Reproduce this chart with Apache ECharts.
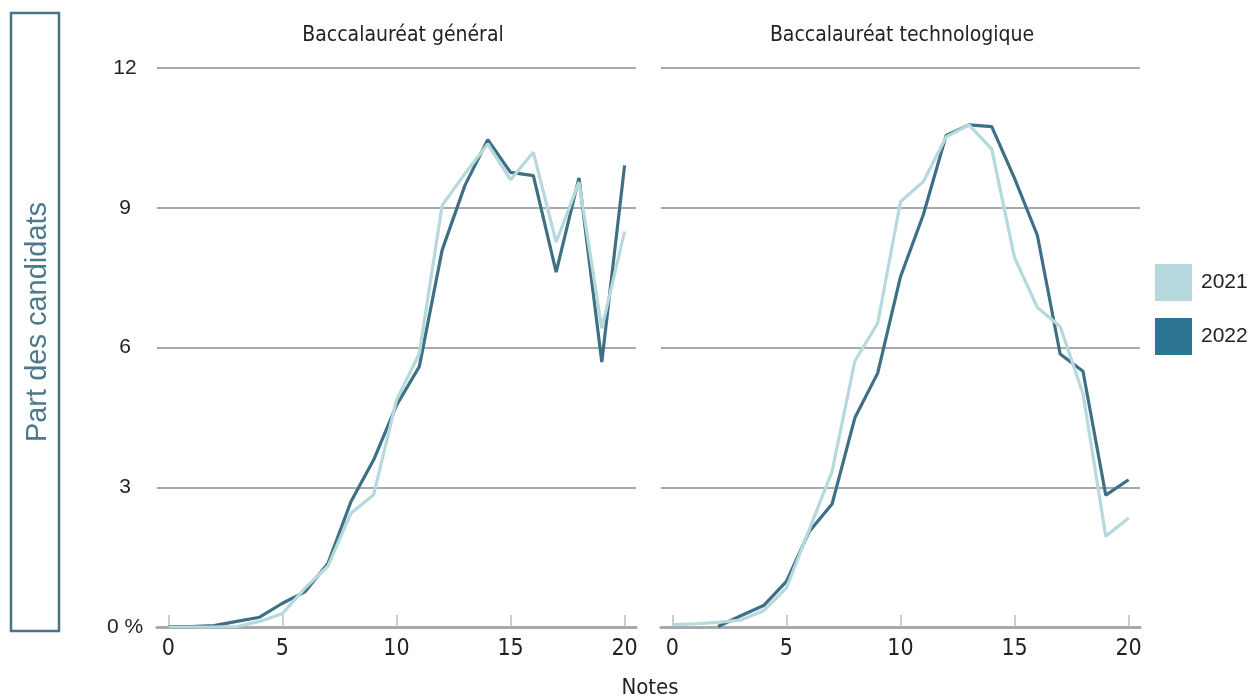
<!DOCTYPE html>
<html>
<head>
<meta charset="utf-8">
<script src="https://cdn.jsdelivr.net/npm/echarts@6/dist/echarts.min.js"></script>
<style>
html,body{margin:0;padding:0;background:#fff;}
#chart{width:1255px;height:698px;}
</style>
</head>
<body>
<div id="chart"></div>
<script>
const notes = ['0','1','2','3','4','5','6','7','8','9','10','11','12','13','14','15','16','17','18','19','20'];
const panelTitles = ['Baccalauréat général', 'Baccalauréat technologique'];
const seriesNames = ['2021', '2022'];
const yTicks = [0, 3, 6, 9, 12];

const general2021 = [0, 0, 0, 0.01, 0.12, 0.29, 0.84, 1.31, 2.44, 2.84, 4.87, 5.87, 9.05, 9.73, 10.37, 9.6, 10.19, 8.26, 9.55, 6.41, 8.49];
const general2022 = [0.01, 0.01, 0.03, 0.12, 0.21, 0.51, 0.76, 1.37, 2.69, 3.59, 4.76, 5.59, 8.09, 9.48, 10.46, 9.76, 9.69, 7.62, 9.64, 5.69, 9.91];
const techno2021 = [0.05, 0.07, 0.1, 0.15, 0.35, 0.84, 2.09, 3.34, 5.71, 6.52, 9.13, 9.56, 10.52, 10.78, 10.26, 7.93, 6.86, 6.45, 5.01, 1.95, 2.34];
const techno2022 = [null, null, 0.01, 0.24, 0.46, 0.98, 2.05, 2.64, 4.49, 5.45, 7.52, 8.85, 10.55, 10.78, 10.74, 9.63, 8.41, 5.86, 5.49, 2.83, 3.16];

const narrow = "'Liberation Sans Narrow', 'DejaVu Sans Condensed', 'Liberation Sans', sans-serif";
const regular = "'Liberation Sans', Arial, sans-serif";
const light = '#b5d9dc';
const darkLine = '#3e7085';
const darkLegend = '#2c7595';

const chart = echarts.init(document.getElementById('chart'), null, {renderer: 'canvas'});

function xAxisFor(idx) {
  return {
    type: 'category', gridIndex: idx, data: notes, boundaryGap: true,
    axisLine: {show: true, lineStyle: {color: '#a9a9ab', width: 3}},
    axisTick: {show: true, inside: true, length: 12, interval: 4, alignWithLabel: true,
               lineStyle: {color: '#bdbdbf', width: 1.5}},
    axisLabel: {show: true, interval: 4, margin: 11, fontSize: 23, color: '#222', fontFamily: narrow},
    splitLine: {show: false}
  };
}
function yAxisFor(idx) {
  return {
    type: 'value', gridIndex: idx, min: yTicks[0], max: yTicks[yTicks.length - 1], interval: 3,
    axisLine: {show: false}, axisTick: {show: false},
    axisLabel: {show: idx === 0, margin: 32, align: 'center', fontSize: 21, color: '#222', fontFamily: regular,
                formatter: v => v === 0 ? '0 %' : String(v)},
    splitLine: {show: true, lineStyle: {color: '#a9a9ab', width: 2}}
  };
}
function lineSeries(name, data, idx, lineColor, legendColor, z) {
  return {
    name: name, type: 'line', xAxisIndex: idx, yAxisIndex: idx, data: data,
    showSymbol: false, symbol: 'none', smooth: false, z: z,
    lineStyle: {color: lineColor, width: 3.2},
    itemStyle: {color: legendColor},
    emphasis: {disabled: true}
  };
}

chart.setOption({
  animation: false,
  backgroundColor: '#fff',
  grid: [
    {left: 157, top: 68, width: 479, height: 559},
    {left: 661, top: 68, width: 479, height: 559}
  ],
  title: [
    {text: panelTitles[0], left: 398, top: 20, textAlign: 'center',
     textStyle: {fontSize: 21, fontWeight: 'normal', color: '#222', fontFamily: narrow}},
    {text: panelTitles[1], left: 897, top: 20, textAlign: 'center',
     textStyle: {fontSize: 21, fontWeight: 'normal', color: '#222', fontFamily: narrow}}
  ],
  legend: {
    data: seriesNames, orient: 'vertical', left: 1150, top: 259,
    itemWidth: 37, itemHeight: 37, itemGap: 17, icon: 'rect',
    textStyle: {fontSize: 21, color: '#222', fontFamily: regular, padding: [0, 0, 0, 4]},
    selectedMode: false
  },
  xAxis: [xAxisFor(0), xAxisFor(1)],
  yAxis: [yAxisFor(0), yAxisFor(1)],
  series: [
    lineSeries(seriesNames[1], general2022, 0, darkLine, darkLegend, 2),
    lineSeries(seriesNames[0], general2021, 0, light, light, 3),
    lineSeries(seriesNames[1], techno2022, 1, darkLine, darkLegend, 2),
    lineSeries(seriesNames[0], techno2021, 1, light, light, 3)
  ],
  graphic: [
    {type: 'rect', shape: {x: 11, y: 13, width: 48, height: 618},
     style: {fill: 'none', stroke: '#4a7589', lineWidth: 2.5}},
    {type: 'text', x: 38, y: 322, rotation: Math.PI / 2,
     style: {text: 'Part des candidats', fill: '#4a7a8c', fontSize: 29, fontFamily: regular,
             textAlign: 'center', textVerticalAlign: 'middle'}},
    {type: 'text', x: 650, y: 688,
     style: {text: 'Notes', fill: '#222', fontSize: 22, fontFamily: narrow,
             textAlign: 'center', textVerticalAlign: 'middle'}}
  ]
});
</script>
</body>
</html>
